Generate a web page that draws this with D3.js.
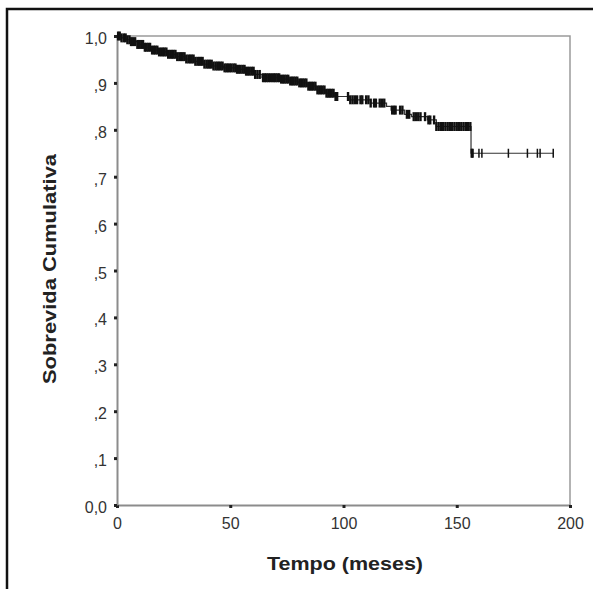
<!DOCTYPE html>
<html>
<head>
<meta charset="utf-8">
<script src="https://cdn.jsdelivr.net/npm/d3@7/dist/d3.min.js"></script>
<style>
  body { margin: 0; background: #fff; }
  svg { display: block; font-family: "Liberation Sans", Arial, sans-serif; }
  .axis path { stroke: #8c8c8c; stroke-width: 2; }
  .axis line { stroke: #222; stroke-width: 3; }
  .axis text { fill: #333; font-size: 16px; }
</style>
</head>
<body>
<div id="chart"></div>
<script>
// step points of the survival curve (time in months, cumulative survival after the event)
const eventTimes = [0, 2, 4, 6, 9, 12, 15, 18, 22, 26, 30, 34, 38, 42, 47, 53, 57, 61, 64, 72, 76, 80, 84, 88, 92, 96, 103, 112, 119, 121, 127, 130, 137, 141, 156.3];
const eventSurv  = [1.0, 0.996, 0.992, 0.988, 0.982, 0.976, 0.970, 0.966, 0.961, 0.956, 0.951, 0.946, 0.940, 0.936, 0.932, 0.929, 0.925, 0.918, 0.911, 0.908, 0.904, 0.900, 0.893, 0.885, 0.878, 0.871, 0.864, 0.857, 0.850, 0.842, 0.833, 0.828, 0.821, 0.807, 0.750];
const lastTime = 192.6;

// censored observations (months)
const censorTimes = [0.5, 1.2, 2, 3, 3.8, 4.6, 5.5, 6.2, 7, 8, 9, 9.8, 10.7, 11.5, 12.3, 13, 13.8, 14.6, 15.5, 16.3, 17, 17.8, 18.6, 19.5, 20.3, 21, 21.8, 22.6, 23.5, 24.3, 25, 25.8, 26.6, 27.5, 28.3, 29, 29.8, 30.6, 31.5, 32.3, 33, 33.8, 34.6, 35.5, 36.3, 37, 37.8, 38.6, 39.5, 40.3, 41, 41.8, 42.6, 43.5, 44.3, 45, 45.8, 46.6, 47.5, 48.3, 49, 49.8, 50.6, 51.5, 52.3, 53, 53.8, 54.6, 55.5, 56.3, 57, 57.8, 58.6, 59.5, 60.3, 61, 62, 63, 64.5, 65.3, 66, 66.8, 67.6, 68.5, 69.3, 70, 70.8, 71.6, 72.5, 73.3, 74, 74.8, 75.6, 76.5, 77.3, 78, 78.8, 79.6, 80.5, 81.3, 82, 82.8, 83.6, 84.5, 85.3, 86, 86.8, 87.6, 88.5, 89.3, 90, 90.8, 91.6, 92.5, 93.3, 94, 94.8, 95.6, 96.5, 97.2, 102, 103, 104, 105, 106, 107.5, 108.3, 110, 111, 112, 113.5, 114.3, 116, 117, 118, 121.5, 122.3, 123, 125, 126, 128, 129, 131, 132, 133, 134, 136, 137.5, 138.3, 140, 141, 142, 143, 144, 145, 146, 147, 148, 149, 150, 151, 152, 153, 154, 155, 156, 156.6, 157, 159.8, 161.1, 172.8, 181.2, 185.6, 186.8, 192.6];

const xTicks = [0, 50, 100, 150, 200];
const yTicks = [0, 0.1, 0.2, 0.3, 0.4, 0.5, 0.6, 0.7, 0.8, 0.9, 1.0];
const yTickLabels = ["0,0", ",1", ",2", ",3", ",4", ",5", ",6", ",7", ",8", ",9", "1,0"];

const width = 593, height = 589;
const margin = {top: 36, right: 23, bottom: 84, left: 117};

const svg = d3.select("#chart").append("svg")
    .attr("width", width)
    .attr("height", height);

// outer frame (runs past the right and bottom edges)
svg.append("rect")
    .attr("x", 7).attr("y", 9)
    .attr("width", 640).attr("height", 640)
    .attr("fill", "none")
    .attr("stroke", "#111")
    .attr("stroke-width", 2.5);

const x = d3.scaleLinear().domain([0, 200]).range([margin.left, width - margin.right]);
const y = d3.scaleLinear().domain([0, 1]).range([height - margin.bottom, margin.top]);

// plot box: top and right sides
svg.append("path")
    .attr("d", "M" + x(0) + "," + y(1) + "H" + x(200) + "V" + y(0))
    .attr("fill", "none")
    .attr("stroke", "#9a9a9a")
    .attr("stroke-width", 1.5);

svg.append("g")
    .attr("class", "axis")
    .attr("transform", "translate(0," + y(0) + ")")
    .call(d3.axisBottom(x).tickValues(xTicks).tickSize(3).tickSizeOuter(0).tickPadding(10))
    .selectAll("text").attr("dy", "0.71em");

svg.append("g")
    .attr("class", "axis")
    .attr("transform", "translate(" + x(0) + ",0)")
    .call(d3.axisLeft(y).tickValues(yTicks).tickSize(3).tickSizeOuter(0).tickPadding(7)
        .tickFormat(function(d, i) { return yTickLabels[i]; }))
    .selectAll("text").attr("dy", "0.72em").attr("y", -4);

// survival curve
const pts = eventTimes.map(function(t, i) { return [t, eventSurv[i]]; });
pts.push([lastTime, eventSurv[eventSurv.length - 1]]);

const line = d3.line()
    .curve(d3.curveStepAfter)
    .x(function(d) { return x(d[0]); })
    .y(function(d) { return y(d[1]); });

svg.append("path")
    .datum(pts)
    .attr("d", line)
    .attr("fill", "none")
    .attr("stroke", "#333")
    .attr("stroke-width", 1.2);

function survAt(t) {
    const i = d3.bisectRight(eventTimes, t) - 1;
    return eventSurv[Math.max(0, i)];
}

svg.selectAll(".censor")
    .data(censorTimes)
    .enter()
    .append("line")
    .attr("class", "censor")
    .attr("x1", function(d) { return x(d); })
    .attr("x2", function(d) { return x(d); })
    .attr("y1", function(d) { return y(survAt(d)) - 4.5; })
    .attr("y2", function(d) { return y(survAt(d)) + 4.5; })
    .attr("stroke", "#111")
    .attr("stroke-width", function(d) { return d > 157.5 ? 1.5 : 2.4; });

// axis titles
svg.append("text")
    .attr("x", 345)
    .attr("y", 570)
    .attr("text-anchor", "middle")
    .attr("font-size", 19)
    .attr("font-weight", "bold")
    .attr("fill", "#222")
    .attr("textLength", 156)
    .attr("lengthAdjust", "spacingAndGlyphs")
    .text("Tempo (meses)");

svg.append("text")
    .attr("transform", "translate(56,269) rotate(-90)")
    .attr("text-anchor", "middle")
    .attr("font-size", 19)
    .attr("font-weight", "bold")
    .attr("fill", "#222")
    .attr("textLength", 230)
    .attr("lengthAdjust", "spacingAndGlyphs")
    .text("Sobrevida Cumulativa");
</script>
</body>
</html>
